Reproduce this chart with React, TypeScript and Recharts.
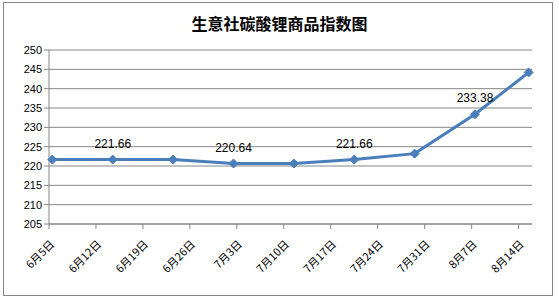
import { LineChart, Line, XAxis, YAxis, CartesianGrid, LabelList } from "recharts";

// days since 6月5日 for each sample (date axis, base unit = day)
const pointDays = [0, 9, 18, 27, 36, 45, 54, 63, 71];
const indexValues = [221.66, 221.66, 221.66, 220.64, 220.64, 221.66, 223.2, 233.38, 244.2];
const labeledPoints = [1, 3, 5, 7];

const tickDays = [0, 7, 14, 21, 28, 35, 42, 49, 56, 63, 70];
const tickLabels = ["6月5日", "6月12日", "6月19日", "6月26日", "7月3日", "7月10日", "7月17日", "7月24日", "7月31日", "8月7日", "8月14日"];
const yTicks = [205, 210, 215, 220, 225, 230, 235, 240, 245, 250];

const data = pointDays.map((d, i) => ({
  // Excel puts the marker in the middle of its day
  x: d + 0.5,
  value: indexValues[i],
  label: labeledPoints.includes(i) ? indexValues[i].toFixed(2) : "",
}));

const LINE = "#4a7ebb";
const GRID = "#868686";

function Diamond(props: any) {
  const { cx, cy } = props;
  if (cx == null || cy == null) return null;
  const r = 4.5;
  return (
    <polygon
      points={`${cx},${cy - r} ${cx + r},${cy} ${cx},${cy + r} ${cx - r},${cy}`}
      fill={LINE}
      stroke={LINE}
    />
  );
}

function DateTick(props: any) {
  const { x, y, payload } = props;
  const idx = tickDays.indexOf(payload.value);
  const x0 = x + 6;
  const y0 = y + 14;
  return (
    <text
      x={x0}
      y={y0}
      transform={`rotate(-45, ${x0}, ${y0})`}
      textAnchor="end"
      fontSize={11}
      fill="#000"
      fontFamily="'Noto Sans CJK SC', sans-serif"
    >
      {tickLabels[idx]}
    </text>
  );
}

export default function App() {
  return (
    <div style={{ position: "absolute", left: 0, top: 0, width: 559, height: 300, background: "#fff" }}>
      <div
        style={{
          position: "absolute",
          left: 3,
          top: 2,
          width: 550,
          height: 294,
          border: `1px solid ${GRID}`,
          boxSizing: "border-box",
        }}
      />
      <div
        style={{
          position: "absolute",
          left: 0,
          top: 11,
          width: 559,
          textAlign: "center",
          fontFamily: "'Noto Sans CJK SC', sans-serif",
          fontWeight: "bold",
          fontSize: 16,
          color: "#000",
        }}
      >
        生意社碳酸锂商品指数图
      </div>
      <div style={{ position: "absolute", left: 0, top: 0 }}>
        <LineChart width={559} height={300} data={data} margin={{ top: 50, right: 27, left: 0, bottom: 0 }}>
          <CartesianGrid vertical={false} stroke={GRID} />
          <XAxis
            dataKey="x"
            type="number"
            domain={[0, 72]}
            ticks={tickDays}
            interval={0}
            height={76}
            stroke={GRID}
            tickSize={5}
            tick={<DateTick />}
          />
          <YAxis
            type="number"
            domain={[205, 250]}
            ticks={yTicks}
            interval={0}
            width={49}
            stroke={GRID}
            tickSize={5}
            tick={{ fill: "#000", fontSize: 11, fontFamily: "Arial, 'Liberation Sans', sans-serif" }}
          />
          <Line
            type="linear"
            dataKey="value"
            stroke={LINE}
            strokeWidth={3}
            dot={<Diamond />}
            isAnimationActive={false}
          >
            <LabelList
              dataKey="label"
              position="top"
              offset={12}
              fill="#000"
              fontSize={12}
              fontFamily="Arial, 'Liberation Sans', sans-serif"
            />
          </Line>
        </LineChart>
      </div>
    </div>
  );
}
